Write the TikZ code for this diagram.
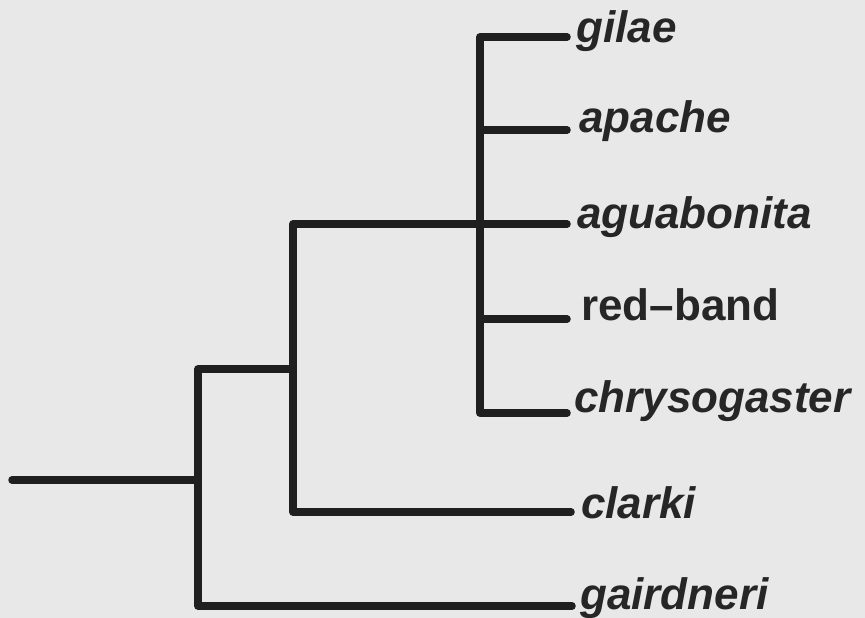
\documentclass[tikz,border=0pt]{standalone}
\usepackage{fontspec}
\setmainfont{Liberation Sans}
\begin{document}
\begin{tikzpicture}[x=1pt,y=-1pt,
  branch/.style={draw=black!88, line width=7.5pt, line cap=round, line join=round},
  taxon/.style={anchor=base west, inner sep=0pt, text=black!85,
    font=\fontsize{44}{48}\selectfont\bfseries\itshape},
  common/.style={taxon, font=\fontsize{44}{48}\selectfont\bfseries}]
  % paper background
  \fill[black!9] (0,0) rectangle (865,618);
  \useasboundingbox (0,0) rectangle (865,618);

  % internal nodes of the tree
  \coordinate (root) at (12,480);
  \coordinate (n1) at (198,480);
  \coordinate (n2) at (293,369);
  \coordinate (n3) at (480,224);

  % branch tips
  \coordinate (t-gilae) at (567,37);
  \coordinate (t-apache) at (567,130);
  \coordinate (t-aguabonita) at (567,224);
  \coordinate (t-redband) at (567,319);
  \coordinate (t-chrysogaster) at (567,413);
  \coordinate (t-clarki) at (571,512);
  \coordinate (t-gairdneri) at (572,606);

  % taxon names
  \node[taxon] (gilae) at (576,43) {gilae};
  \node[taxon] (apache) at (579,132) {apache};
  \node[taxon] (aguabonita) at (577,228) {aguabonita};
  \node[common] (redband) at (581,320) {red–band};
  \node[taxon] (chrysogaster) at (574,412) {chrysogaster};
  \node[taxon] (clarki) at (581,518) {clarki};
  \node[taxon] (gairdneri) at (580,609) {gairdneri};

  % branches
  \draw[branch] (root) -- (n1);
  \draw[branch] (n1) |- (n2);
  \draw[branch] (n1) |- (t-gairdneri);
  \draw[branch] (n2) |- (t-aguabonita);
  \draw[branch] (n2) |- (t-clarki);
  \draw[branch] (n3) |- (t-gilae);
  \draw[branch] (n3) |- (t-apache);
  \draw[branch] (n3) |- (t-redband);
  \draw[branch] (n3) |- (t-chrysogaster);
\end{tikzpicture}
\end{document}
